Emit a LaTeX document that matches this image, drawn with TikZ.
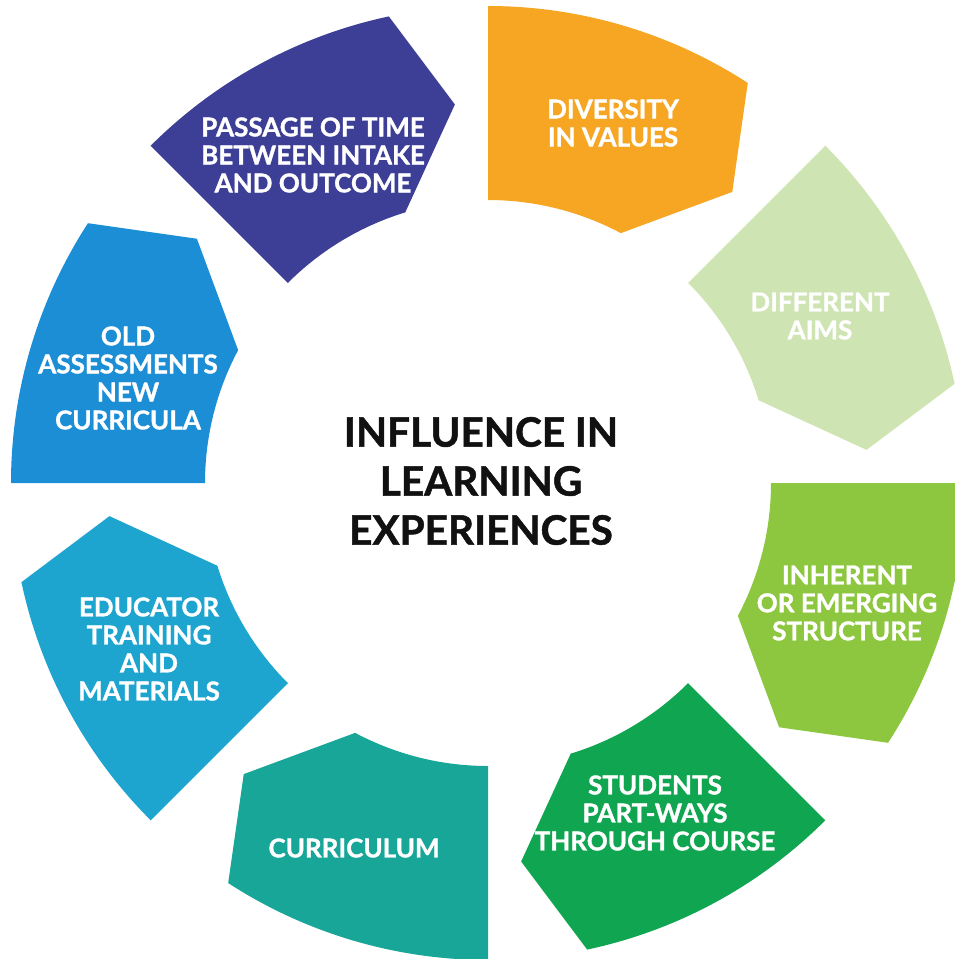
\documentclass[tikz,border=0pt]{standalone}
\usepackage{fontspec}
\setmainfont{Lato}[BoldFeatures={FakeBold=1.2}]

\definecolor{cOrange}{HTML}{F6A623}
\definecolor{cPale}{HTML}{CEE4B2}
\definecolor{cLime}{HTML}{8DC63F}
\definecolor{cGreen}{HTML}{10A550}
\definecolor{cTeal}{HTML}{17A698}
\definecolor{cCyan}{HTML}{1DA5CF}
\definecolor{cBlue}{HTML}{1C8ED6}
\definecolor{cIndigo}{HTML}{3D3E96}
\definecolor{cInk}{HTML}{111111}

% ring geometry (pt): inner radius, tip radius, outer radius
\newcommand\rIn{283}
\newcommand\rTip{380}
\newcommand\rOut{477}

% one ring segment: straight radial side at #1, pointed side clockwise of it
\newcommand\ringseg[2]{%
  \fill[#2] (#1:\rIn)
    arc[start angle=#1, end angle={#1+28}, radius=\rIn]
    -- ({#1+40}:\rTip)
    -- ({#1+33}:\rOut)
    arc[start angle={#1+33}, end angle=#1, radius=\rOut]
    -- cycle;}

\begin{document}
\begin{tikzpicture}[x=1pt, y=-1pt,
  seglabel/.style={text=white, align=center, inner sep=0pt,
    font=\bfseries\fontsize{26}{28}\selectfont},
  hub/.style={text=cInk, align=center, inner sep=0pt,
    font=\bfseries\fontsize{40.5}{49}\selectfont}]
\useasboundingbox (0,0) rectangle (955,959);
\clip (0,0) rectangle (955,959);

\begin{scope}[shift={(488,483)}]
  \ringseg{270}{cOrange}
  \ringseg{315}{cPale}
  \ringseg{0}{cLime}
  \ringseg{45}{cGreen}
  \ringseg{90}{cTeal}
  \ringseg{135}{cCyan}
  \ringseg{180}{cBlue}
  \ringseg{225}{cIndigo}
\end{scope}

\node[seglabel] (values)     at (613,123) {DIVERSITY\\IN VALUES};
\node[seglabel] (aims)       at (820,316) {DIFFERENT\\AIMS};
\node[seglabel] (structure)  at (847,603) {INHERENT\\OR EMERGING\\STRUCTURE};
\node[seglabel] (students)   at (655,813) {STUDENTS\\PART-WAYS\\THROUGH COURSE};
\node[seglabel] (curriculum) at (354,848) {CURRICULUM};
\node[seglabel] (educator)   at (149,649) {EDUCATOR\\TRAINING\\AND\\MATERIALS};
\node[seglabel] (assess)     at (128,378) {OLD\\ASSESSMENTS\\NEW\\CURRICULA};
\node[seglabel] (passage)    at (313,155) {PASSAGE OF TIME\\BETWEEN INTAKE\\AND OUTCOME};

\node[hub] (title) at (481,481) {INFLUENCE IN\\LEARNING\\EXPERIENCES};
\end{tikzpicture}
\end{document}
